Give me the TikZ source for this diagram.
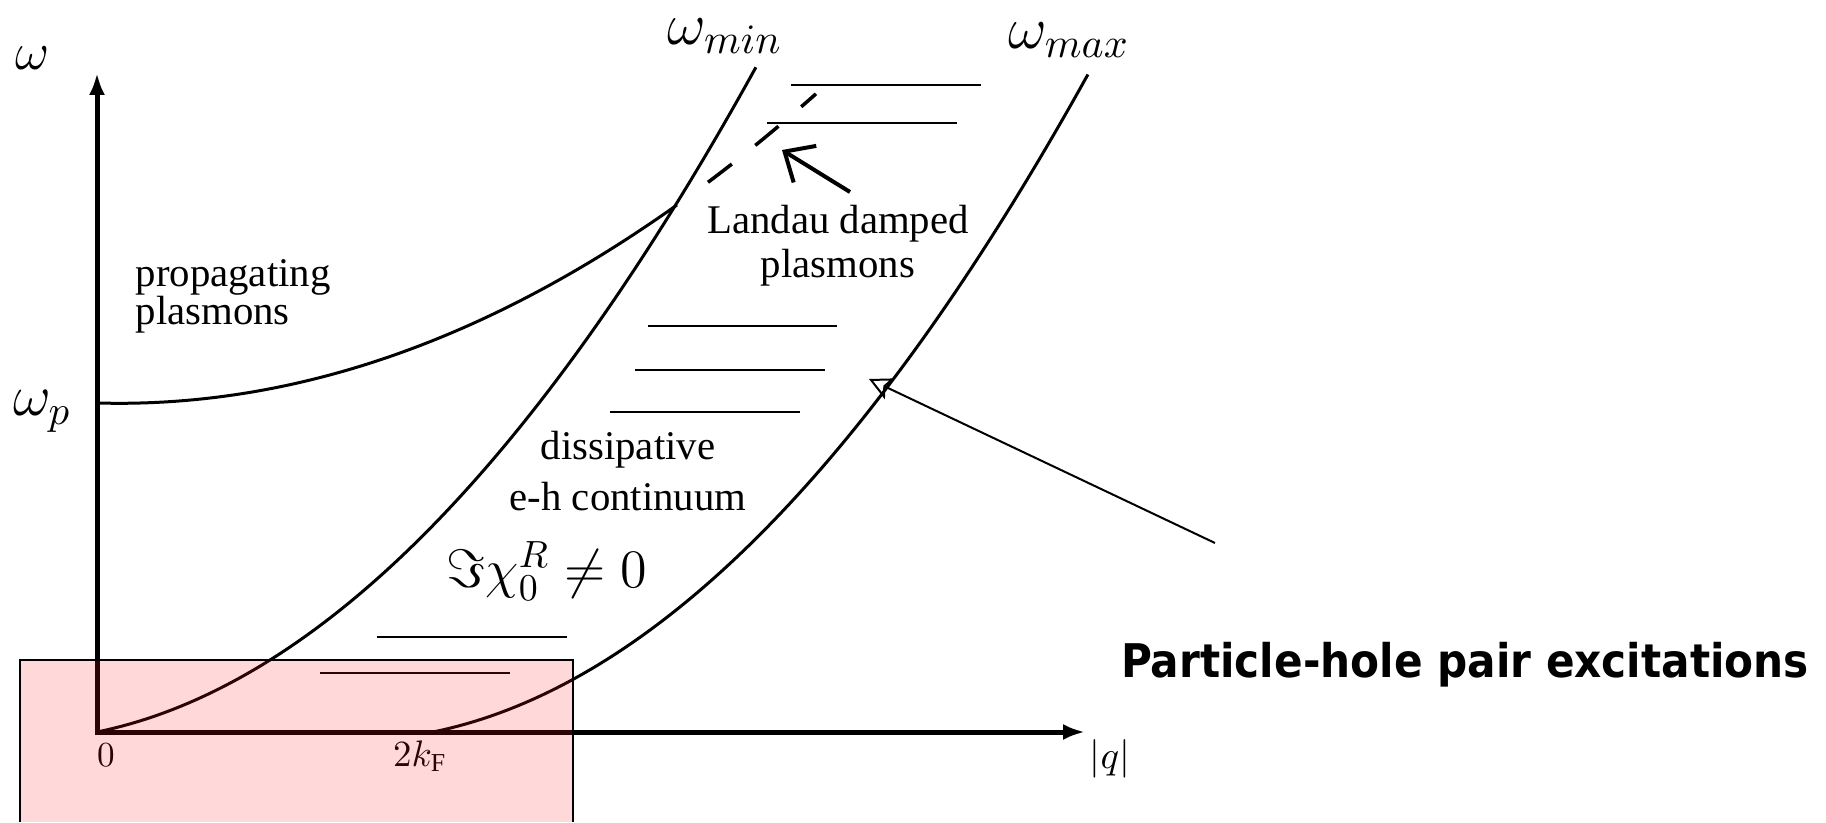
\documentclass[tikz,border=0pt]{standalone}
\usepackage{fix-cm}
\usepackage{amsmath,amssymb,bm}
\usepackage{fontspec}
\setmainfont{Liberation Serif}
\newfontfamily\labelsans[FakeStretch=0.91]{DejaVu Sans}
\usepackage{tikz}
\usetikzlibrary{arrows.meta,positioning}
\usepackage{xcolor}
\definecolor{rose}{HTML}{FF1F1F}

\tikzset{
  axis/.style={line width=0.5mm,{Latex[length=2.2mm,width=1.6mm]}-{Latex[length=2.2mm,width=1.6mm]}},
  curve/.style={line width=0.3mm},
  hatch/.style={line width=0.2mm},
  regiontext/.style={inner sep=0pt},
}

\begin{document}
\begin{tikzpicture}[x=1cm,y=1cm]
    \fill[white] (0,0) rectangle (18.26,8.22);
    \useasboundingbox (0,0) rectangle (18.26,8.22);
    % axes
    \coordinate (origin) at (0.97,0.90);
    \coordinate (ytip) at (0.97,7.49);
    \coordinate (xtip) at (10.85,0.90);
    \draw[axis] (ytip) -- (origin) -- (xtip);
    \node[font=\fontsize{15}{17}\selectfont] (wlabel) at (0.33,7.64) {$\omega$};
    \node[anchor=base,font=\fontsize{16.6}{19}\selectfont] (wp) at (0.42,4.06) {$\omega_p$};
    \node[font=\fontsize{10}{12}\selectfont] (zero) at (1.06,0.67) {$0$};
    \node[anchor=base,font=\fontsize{10.5}{12}\selectfont] (kf) at (4.20,0.56) {$2k_{\mathrm{F}}$};
    \node[font=\fontsize{11}{13}\selectfont] (qlabel) at (11.10,0.63) {$|q|$};
    \node[anchor=base,font=\fontsize{17}{20}\selectfont] (wmin) at (7.25,7.77) {$\omega_{min}$};
    \node[anchor=base,font=\fontsize{17}{20}\selectfont] (wmax) at (10.69,7.73) {$\omega_{max}$};
    % continuum edges and plasmon branch
    \draw[curve] plot[domain=0:6.59,samples=80] ({0.97+\x},{0.90+0.122*\x*\x+0.205*\x});
    \draw[curve] plot[domain=0:6.55,samples=80] ({4.33+\x},{0.90+0.122*\x*\x+0.205*\x});
    \draw[curve] plot[domain=0:5.80,samples=60] ({0.97+\x},{4.19+0.0637*\x*\x-0.028*\x});
    \draw[line width=0.35mm,dash pattern=on 3mm off 3mm] plot[domain=6.11:7.19,samples=30] ({0.97+\x},{4.19+0.0637*\x*\x-0.028*\x});
    % hatching inside the continuum
    \foreach \xa/\xb/\yy in {7.91/9.81/7.37, 7.67/9.57/6.99, 6.48/8.37/4.96, 6.35/8.25/4.52,
                             6.10/8.00/4.10, 3.77/5.67/1.85, 3.20/5.10/1.49}
      \draw[hatch] (\xa,\yy) -- (\xb,\yy);
    % region labels (base = last line)
    \node[regiontext,align=left,anchor=base west,font=\fontsize{11.6}{11}\selectfont] (propagating) at (1.35,4.97) {propagating\\plasmons};
    \node[regiontext,align=center,anchor=base,font=\fontsize{11.6}{12.8}\selectfont] (landau) at (8.38,5.44) {Landau damped\\plasmons};
    \node[regiontext,align=center,anchor=base,font=\fontsize{11.6}{14.5}\selectfont] (dissipative) at (6.28,3.12) {dissipative\\e-h continuum};
    \node[anchor=base,font=\fontsize{15.4}{18}\selectfont] (imchi) at (5.47,2.35) {$\Im\chi_0^R\neq0$};
    \coordinate (landautail) at (8.50,6.30);
    \coordinate (landautip) at (7.82,6.72);
    \draw[line width=0.4mm,-{Straight Barb[length=2.4mm,width=4.3mm]}] (landautail) -- (landautip);
    % annotation
    \node[anchor=base,inner sep=0pt,font=\labelsans\bfseries\fontsize{13.2}{16}\selectfont] (phpair) at (14.65,1.45) {Particle-hole pair excitations};
    \coordinate (phtail) at (12.15,2.79);
    \coordinate (phtip) at (8.69,4.43);
    \draw[line width=0.2mm,-{Stealth[open,length=2.3mm,width=2.3mm,inset=0.5mm]}] (phtail) -- (phtip);
    % highlighted corner
    \fill[rose,fill opacity=0.17] (0.20,0) rectangle (5.73,1.62);
    \draw[line width=0.2mm] (0.20,0) -- (0.20,1.62) -- (5.73,1.62) -- (5.73,0);
  \end{tikzpicture}
\end{document}
